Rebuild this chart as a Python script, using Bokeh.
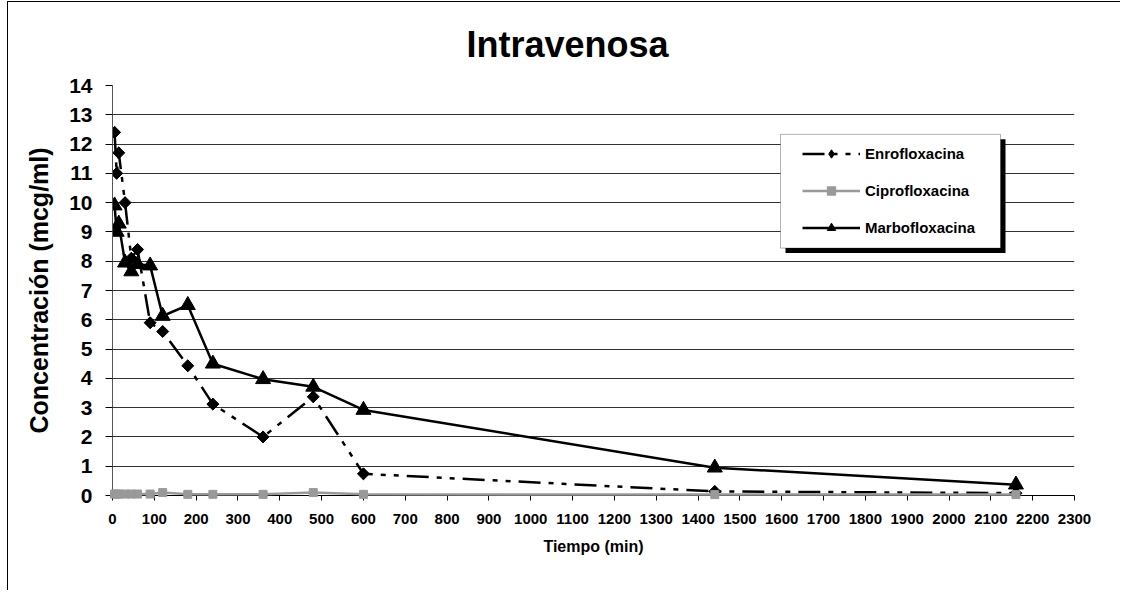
import numpy as np
from bokeh.plotting import figure
from bokeh.models import FixedTicker, Legend, LegendItem, BoxAnnotation, Range1d
from bokeh.embed import file_html
from bokeh.resources import INLINE

# ---- data ----
times = [5, 10, 15, 30, 45, 60, 90, 120, 180, 240, 360, 480, 600, 1440, 2160]
enro = [12.4, 11.0, 11.7, 10.0, 8.1, 8.4, 5.9, 5.6, 4.43, 3.12, 2.0, 3.37, 0.74, 0.14, 0.08]
cipro = [0.05, 0.05, 0.05, 0.05, 0.05, 0.05, 0.05, 0.1, 0.04, 0.04, 0.04, 0.1, 0.04, 0.03, 0.03]
marbo = [9.9, 9.0, 9.28, 7.95, 7.65, 7.9, 7.85, 6.13, 6.5, 4.5, 3.97, 3.71, 2.92, 0.95, 0.37]
series_names = ["Enrofloxacina", "Ciprofloxacina", "Marbofloxacina"]
title_text = "Intravenosa"
x_ticks = list(range(0, 2301, 100))
y_ticks = list(range(0, 15))

FONT = "Liberation Sans"
X0, X1, Y0, Y1 = 0, 2300, 0, 14
FRAME_W, FRAME_H = 962, 411

p = figure(width=1113, height=589, x_range=Range1d(X0, X1), y_range=Range1d(Y0, Y1),
           output_backend="svg", toolbar_location=None, margin=(1, 0, 0, 7),
           min_border_left=104, min_border_right=47, min_border_top=82, min_border_bottom=96)
p.styles = {"border-left": "1px solid #000", "border-top": "1px solid #000"}
p.outline_line_color = None
p.background_fill_color = "white"
p.border_fill_color = "white"

# title
p.title.text = title_text
p.title.text_font = FONT
p.title.text_font_size = "36px"
p.title.text_font_style = "bold"
p.title.text_color = "black"
p.title.align = "left"
p.title.offset = 354
p.title.vertical_align = "middle"
p.title.standoff = 40

# grid
p.xgrid.visible = False
p.ygrid.ticker = FixedTicker(ticks=y_ticks)
p.ygrid.grid_line_color = "#333333"
p.ygrid.grid_line_width = 1

# axes
p.xaxis.ticker = FixedTicker(ticks=x_ticks)
p.yaxis.ticker = FixedTicker(ticks=y_ticks)
for ax in (p.xaxis[0], p.yaxis[0]):
    ax.major_label_text_font = FONT
    ax.major_label_text_font_style = "bold"
    ax.major_label_text_color = "black"
    ax.axis_label_text_font = FONT
    ax.axis_label_text_font_style = "bold"
    ax.axis_label_text_color = "black"
    ax.minor_tick_line_color = None
    ax.major_tick_in = 0
    ax.axis_line_color = "black"
    ax.major_tick_line_color = "black"
p.yaxis.axis_line_color = "#555555"
p.yaxis.major_tick_out = 7
p.xaxis.major_tick_out = 5
p.yaxis.major_label_text_font_size = "21px"
p.xaxis.major_label_text_font_size = "15px"
p.yaxis.major_label_standoff = 13
p.xaxis.major_label_standoff = 13
p.yaxis.axis_label = "Concentración (mcg/ml)"
p.yaxis.axis_label_text_font_size = "25px"
p.yaxis.axis_label_standoff = 13
p.xaxis.axis_label = "Tiempo (min)"
p.xaxis.axis_label_text_font_size = "16px"
p.xaxis.axis_label_standoff = 11

# series
r_e = p.line(times, enro, line_color="black", line_width=2.5, line_dash="22 8 5 8 5 8")
s_e = p.scatter(times, enro, marker="square", size=8.5, angle=np.pi / 4,
                fill_color="black", line_color="black")
# diamond drawn inside the rotated squares; gives the legend a diamond glyph
s_e_d = p.scatter(times, enro, marker="diamond", size=11,
                  fill_color="black", line_color="black")
r_c = p.line(times, cipro, line_color="#999999", line_width=2.5, level="overlay")
s_c = p.scatter(times, cipro, marker="square", size=8, fill_color="#999999",
                line_color="#999999", level="overlay")
r_m = p.line(times, marbo, line_color="black", line_width=2.5)
s_m = p.scatter(times, marbo, marker="triangle", size=15, fill_color="black", line_color="black")

# helpers: pixel offsets inside the frame -> data units (legend frame)
def dx(px):
    return X0 + px * (X1 - X0) / FRAME_W

def dy(py):
    return Y1 - py * (Y1 - Y0) / FRAME_H

shadow = BoxAnnotation(left=dx(673), right=dx(893), top=dy(54), bottom=dy(168),
                       fill_color="black", fill_alpha=1, line_color=None)
box = BoxAnnotation(left=dx(668), right=dx(888), top=dy(49), bottom=dy(163),
                    fill_color="white", fill_alpha=1, line_color="black", line_width=1)
p.add_layout(shadow, "center")
p.add_layout(box, "center")

legend = Legend(items=[LegendItem(label=series_names[0], renderers=[r_e, s_e_d]),
                       LegendItem(label=series_names[1], renderers=[r_c, s_c]),
                       LegendItem(label=series_names[2], renderers=[r_m, s_m])],
                location=(690, 257), padding=10, spacing=16, margin=0,
                label_height=21, glyph_height=21, glyph_width=58, label_standoff=5,
                label_text_font=FONT, label_text_font_style="bold", label_text_font_size="15px",
                label_text_color="black", border_line_color=None, background_fill_alpha=0)
p.add_layout(legend, "center")

open("out.html", "w").write(file_html(p, INLINE))
